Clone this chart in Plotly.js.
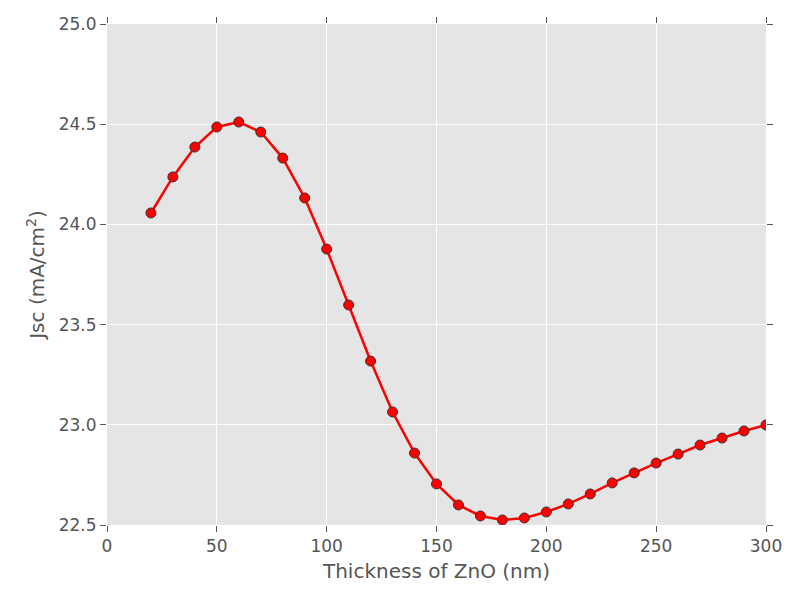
<!DOCTYPE html>
<html><head><script src="https://cdn.plot.ly/plotly-3.0.1.min.js"></script></head>
<body style="margin:0"><div id="c" style="width:800px;height:600px"></div>
<script>
const thickness=[20,30,40,50,60,70,80,90,100,110,120,130,140,150,160,170,180,190,200,210,220,230,240,250,260,270,280,290,300];
const jsc=[24.057,24.237,24.386,24.486,24.511,24.461,24.331,24.132,23.877,23.598,23.318,23.064,22.859,22.705,22.600,22.545,22.525,22.535,22.565,22.605,22.655,22.710,22.760,22.809,22.854,22.899,22.934,22.969,22.999];
const ax={showgrid:true,gridcolor:'#ffffff',gridwidth:1,zeroline:false,ticks:'outside',ticklen:6,tickcolor:'#555',mirror:'ticks',showline:false,tickfont:{size:17,color:'#555'}};
Plotly.newPlot('c',[{x:thickness,y:jsc,mode:'lines+markers',line:{color:'#ff0000',width:2.5},marker:{color:'#ff0000',size:10,line:{color:'#333',width:1}}}],{
width:800,height:600,margin:{l:107,r:34,t:24,b:75},
paper_bgcolor:'#fff',plot_bgcolor:'#e5e5e5',font:{family:'DejaVu Sans',color:'#555'},showlegend:false,
xaxis:Object.assign({},ax,{range:[0,300],dtick:50,title:{text:'Thickness of ZnO (nm)',font:{size:20,color:'#555'},standoff:8}}),
yaxis:Object.assign({},ax,{range:[22.5,25.0],dtick:0.5,tickformat:'.1f',title:{text:'Jsc (mA/cm<sup>2</sup>)',font:{size:20,color:'#555'},standoff:8}})
},{displayModeBar:false});
</script></body></html>
